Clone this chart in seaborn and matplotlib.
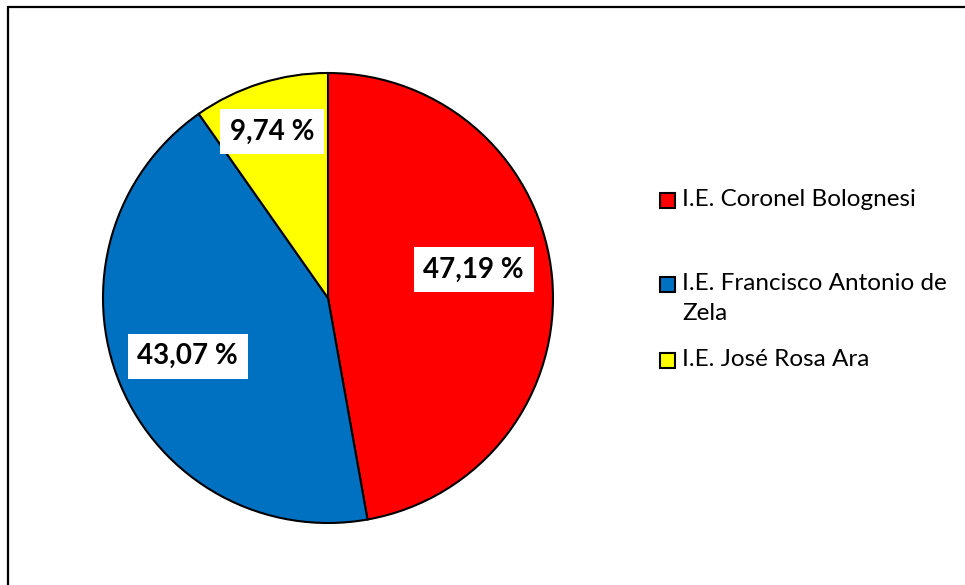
import numpy as np
import matplotlib
matplotlib.use("Agg")
import matplotlib.pyplot as plt
import matplotlib.patches as mpatches
import seaborn as sns

# datos
escuelas = ["I.E. Coronel Bolognesi",
            "I.E. Francisco Antonio de\nZela",
            "I.E. José Rosa Ara"]
porcentajes = [47.19, 43.07, 9.74]
etiquetas = ["47,19 %", "43,07 %", "9,74 %"]
colores = ["#FF0000", "#0070C0", "#FFFF00"]

sns.set_theme(style="white")
plt.rcParams['font.family'] = ['Lato', 'DejaVu Sans']

W, H = 965, 585
fig = plt.figure(figsize=(W / 100, H / 100), dpi=100)

# marco del gráfico (sale por la derecha y abajo)
fig.patches.append(mpatches.Rectangle(
    (8 / W, -0.1), 1.2, 1.1 - 7 / H, transform=fig.transFigure,
    fill=False, edgecolor="black", linewidth=1.6))

# pastel: centro (328, 298) px, radio 225 px
cx, cy, r = 328, 298, 225
ax = fig.add_axes([(cx - r) / W, (H - cy - r) / H, 2 * r / W, 2 * r / H])
wedges, _ = ax.pie(porcentajes, colors=colores, startangle=90,
                   counterclock=False,
                   wedgeprops=dict(edgecolor="black", linewidth=1.5))
ax.set_xlim(-1, 1)
ax.set_ylim(-1, 1)
ax.set_aspect("equal")
ax.axis("off")

# etiquetas de porcentaje con cuadro blanco
radio_etq = [0.66, 0.675, 0.78]
ajuste_ang = [6, 0, 1]
for w, txt, rr, da in zip(wedges, etiquetas, radio_etq, ajuste_ang):
    ang = np.deg2rad((w.theta1 + w.theta2) / 2 + da)
    ax.text(rr * np.cos(ang), rr * np.sin(ang), txt, ha="center", va="center",
            fontsize=20, fontweight="bold", color="black",
            bbox=dict(facecolor="white", edgecolor="none", pad=7))

# leyenda manual (cuadro alineado con la primera línea)
leg_y = [200.5, 284.5, 360.5]
for nombre, col, y in zip(escuelas, colores, leg_y):
    fig.patches.append(mpatches.Rectangle(
        (660 / W, (H - y - 7.5) / H), 15 / W, 15 / H,
        transform=fig.transFigure, facecolor=col, edgecolor="black",
        linewidth=1.5))
    fig.text(682 / W, (H - y + 11) / H, nombre, ha="left", va="top",
             fontsize=17.5, color="black", linespacing=1.5)

fig.savefig("out.png", dpi=100, facecolor="white")
